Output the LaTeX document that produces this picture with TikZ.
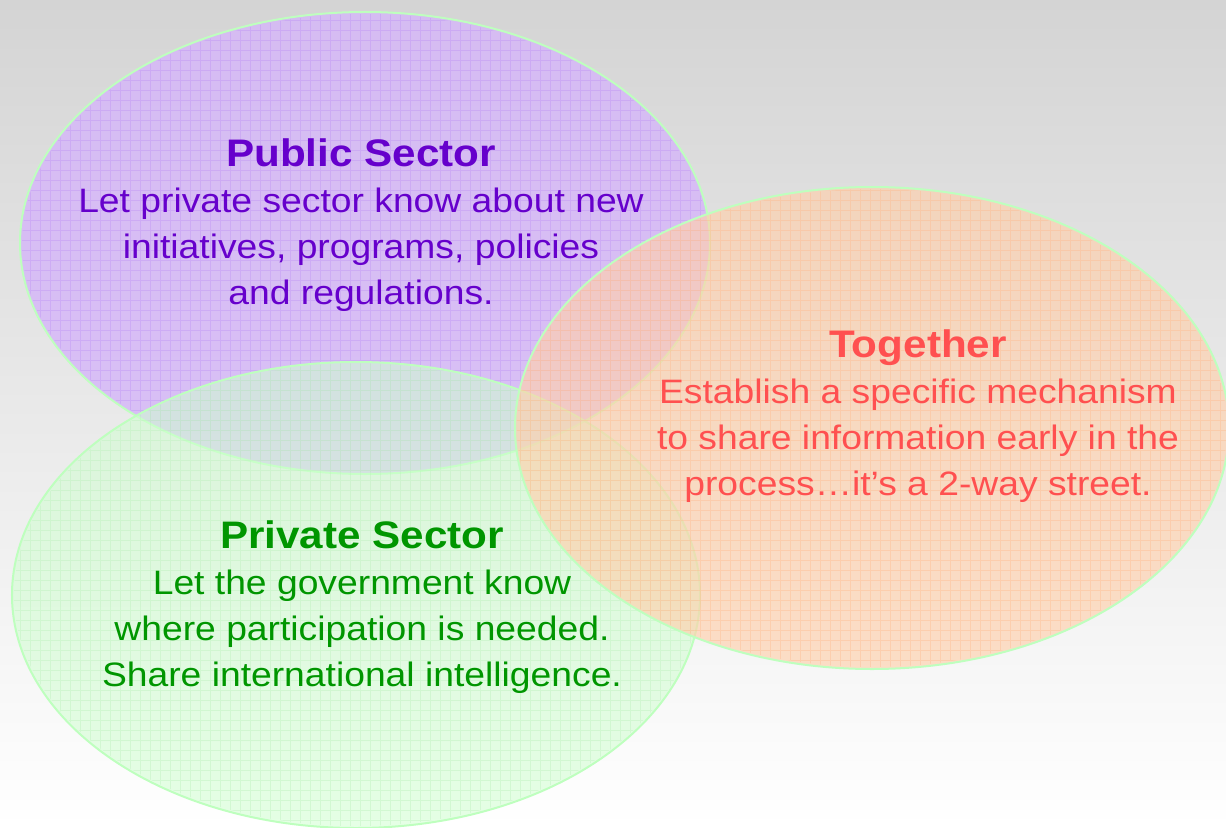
\documentclass[tikz,border=0pt]{standalone}
\usepackage{fontspec}
\setmainfont[FakeStretch=1.1]{Liberation Sans}
\usetikzlibrary{shapes.geometric}
\definecolor{bgtop}{RGB}{212,212,212}
\definecolor{vennline}{RGB}{190,255,190}
\definecolor{pubfill}{RGB}{214,184,248}
\definecolor{pubgrid}{RGB}{190,145,245}
\definecolor{pubtext}{RGB}{102,0,204}
\definecolor{privfill}{RGB}{208,255,208}
\definecolor{privgrid}{RGB}{185,240,185}
\definecolor{privtext}{RGB}{0,150,0}
\definecolor{togfill}{RGB}{255,208,172}
\definecolor{toggrid}{RGB}{255,185,140}
\definecolor{togtext}{RGB}{255,80,80}
\tikzset{
  venn/.style={ellipse,draw=vennline,line width=2bp,inner sep=0pt},
  vgrid/.style={line width=0.6bp,opacity=0.4},
  vtext/.style={align=center,font=\fontsize{34}{46}\selectfont},
}
\begin{document}
\begin{tikzpicture}[x=1bp,y=-1bp,line join=bevel]
  \pgfsetlinewidth{1bp}
%%
  % Background
  \shade[top color=bgtop,bottom color=white] (0,0) rectangle (1226,828);
  \useasboundingbox (0,0) rectangle (1226,828);
  % Node: Public Sector
\begin{scope}
  \node[venn,fill=pubfill,fill opacity=0.85,minimum width=690bp,minimum height=462bp] (public) at (365,243) {};
  \clip (365,243) ellipse [x radius=343, y radius=229];
  \draw[vgrid,pubgrid,step=10bp] (0,0) grid (720,480);
\end{scope}
  % Node: Private Sector
\begin{scope}
  \node[venn,fill=privfill,fill opacity=0.55,minimum width=688bp,minimum height=466bp] (private) at (356,595) {};
  \clip (356,595) ellipse [x radius=342, y radius=231];
  \draw[vgrid,privgrid,step=10bp] (0,360) grid (710,830);
\end{scope}
  % Node: Together
\begin{scope}
  \node[venn,fill=togfill,fill opacity=0.65,minimum width=714bp,minimum height=482bp] (together) at (872,428) {};
  \clip (872,428) ellipse [x radius=355, y radius=239];
  \draw[vgrid,toggrid,step=10bp] (510,180) grid (1230,670);
\end{scope}
  % Texts
  \node[vtext,text=pubtext] (publictext) at (361,225)
    {{\bfseries\fontsize{38.5}{46}\selectfont Public Sector}\\Let private sector know about new\\initiatives, programs, policies\\and regulations.};
  \node[vtext,text=togtext] (togethertext) at (918,416)
    {{\bfseries\fontsize{38.5}{46}\selectfont Together}\\Establish a specific mechanism\\to share information early in the\\process\ldots it’s a 2-way street.};
  \node[vtext,text=privtext] (privatetext) at (362,607)
    {{\bfseries\fontsize{38.5}{46}\selectfont Private Sector}\\Let the government know\\where participation is needed.\\Share international intelligence.};
%
\end{tikzpicture}
\end{document}
